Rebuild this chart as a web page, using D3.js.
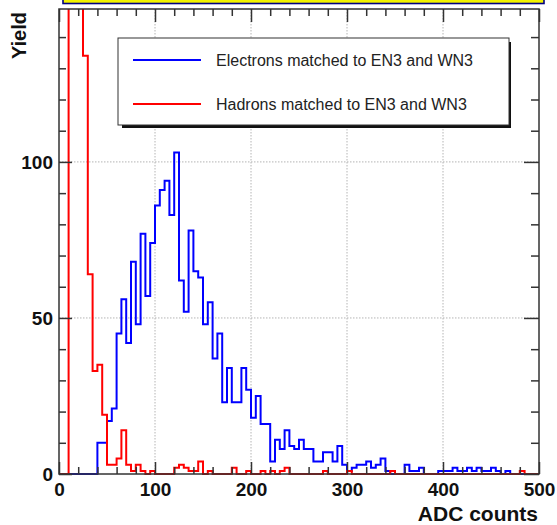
<!DOCTYPE html>
<html>
<head>
<meta charset="utf-8">
<script src="https://cdn.jsdelivr.net/npm/d3@7"></script>
<style>
  html, body { margin: 0; padding: 0; background: #fff; }
  svg { display: block; }
  .tick text { font-family: "Liberation Sans", Arial, Helvetica, sans-serif; font-weight: bold; font-size: 19px; fill: #111; }
</style>
</head>
<body>
<svg id="chart" width="557" height="525"></svg>
<script>
// Histogram binning: 100 bins of 5 ADC counts over [0, 500)
const binWidth = 5;
const binLowEdges = d3.range(0, 500, binWidth);

// Electron yields per bin
const electronCounts = [
  0, 0, 0, 0, 0, 0, 0, 0, 10, 10,
  17, 21, 45, 56, 42, 68, 48, 77, 57, 74,
  86, 91, 94, 83, 103, 62, 52, 78, 65, 63,
  48, 55, 37, 45, 23, 34, 23, 23, 34, 27,
  18, 25, 16, 16, 4, 11, 8, 14, 9, 8,
  11, 8, 8, 4, 4, 7, 7, 4, 9, 3,
  1, 2, 3, 3, 4, 2, 3, 5, 1, 0,
  0, 0, 3, 1, 1, 2, 0, 0, 0, 1,
  1, 1, 2, 1, 1, 2, 1, 2, 1, 1,
  2, 1, 0, 1, 0, 0, 0, 0, 0, 0
];

// Hadron yields per bin (first bins run far above the frame)
const hadronCounts = [
  0, 0, 380, 520, 260, 134, 64, 33, 35, 19,
  3, 3, 5, 14, 3, 1, 3, 1, 0, 1,
  0, 0, 0, 0, 2, 3, 2, 1, 1, 4,
  0, 1, 0, 0, 0, 0, 2, 0, 0, 1,
  0, 0, 1, 0, 1, 0, 1, 2, 0, 0,
  0, 0, 0, 0, 0, 1, 0, 0, 0, 0,
  1, 0, 0, 0, 0, 0, 0, 0, 0, 1,
  0, 0, 0, 0, 0, 0, 0, 0, 0, 0,
  0, 0, 0, 0, 0, 0, 0, 0, 0, 0,
  0, 0, 0, 0, 0, 0, 1, 0, 0, 0
];

const xMajorTicks = [0, 100, 200, 300, 400, 500];
const xMinorTicks = d3.range(20, 500, 20).filter(v => v % 100 !== 0);
const yMajorTicks = [0, 50, 100];
const yMinorTicks = [10, 20, 30, 40, 60, 70, 80, 90, 110, 120, 130, 140];
const xGridValues = [100, 200, 300, 400];
const yGridValues = [50, 100];

const seriesNames = ["Electrons matched to EN3 and WN3", "Hadrons matched to EN3 and WN3"];
const seriesColors = ["#0000ff", "#ff0000"];
const xTitle = "ADC counts";
const yTitle = "Yield";

const svg = d3.select("#chart");
const frame = { left: 59, right: 539, top: 9, bottom: 474 };

const x = d3.scaleLinear().domain([0, 500]).range([frame.left, frame.right]);
const y = d3.scaleLinear().domain([0, 149]).range([frame.bottom, frame.top]);

// Title box peeking in at the top edge
svg.append("rect")
  .attr("x", 63).attr("y", -4).attr("width", 481).attr("height", 7.5)
  .attr("fill", "#f2f200").attr("stroke", "#000080").attr("stroke-width", 1.6);

// Dotted grid
const grid = svg.append("g");
grid.selectAll("line.gx").data(xGridValues).join("line")
  .attr("x1", d => x(d)).attr("x2", d => x(d))
  .attr("y1", frame.top).attr("y2", frame.bottom)
  .attr("stroke", "#b4b4b4").attr("stroke-width", 1).attr("stroke-dasharray", "1.5,1.5");
grid.selectAll("line.gy").data(yGridValues).join("line")
  .attr("y1", d => y(d)).attr("y2", d => y(d))
  .attr("x1", frame.left).attr("x2", frame.right)
  .attr("stroke", "#b4b4b4").attr("stroke-width", 1).attr("stroke-dasharray", "1.5,1.5");

// Plot-area clip so off-scale bins are cut at the frame
svg.append("clipPath").attr("id", "plotClip")
  .append("rect")
  .attr("x", frame.left).attr("y", frame.top)
  .attr("width", frame.right - frame.left).attr("height", frame.bottom - frame.top + 2);

function stepPoints(counts) {
  const pts = [[0, 0]];
  counts.forEach((c, i) => {
    const lo = binLowEdges[i], hi = lo + binWidth;
    pts.push([lo, c], [hi, c]);
  });
  pts.push([500, 0]);
  return pts;
}
const stepLine = d3.line().x(d => x(d[0])).y(d => y(d[1]));

const hists = svg.append("g").attr("clip-path", "url(#plotClip)");
[electronCounts, hadronCounts].forEach((counts, i) => {
  hists.append("path")
    .attr("d", stepLine(stepPoints(counts)))
    .attr("fill", "none")
    .attr("stroke", seriesColors[i])
    .attr("stroke-width", 2)
    .attr("stroke-linejoin", "miter");
});

// Frame
svg.append("rect")
  .attr("x", frame.left).attr("y", frame.top)
  .attr("width", frame.right - frame.left).attr("height", frame.bottom - frame.top)
  .attr("fill", "none").attr("stroke", "#333").attr("stroke-width", 1.5);

function styleAxis(g) {
  g.select(".domain").remove();
  g.selectAll(".tick line").attr("stroke", "#333").attr("stroke-width", 1.5);
}

// Bottom axis (labelled) + minor ticks
svg.append("g").attr("transform", `translate(0,${frame.bottom})`)
  .call(d3.axisBottom(x).tickValues(xMajorTicks).tickSizeInner(-12).tickSizeOuter(0).tickPadding(9).tickFormat(d3.format("d")))
  .call(styleAxis);
svg.append("g").attr("transform", `translate(0,${frame.bottom})`)
  .call(d3.axisBottom(x).tickValues(xMinorTicks).tickSizeInner(-7).tickSizeOuter(0).tickFormat(""))
  .call(styleAxis);

// Top axis ticks
svg.append("g").attr("transform", `translate(0,${frame.top})`)
  .call(d3.axisTop(x).tickValues(xMajorTicks).tickSizeInner(-13).tickSizeOuter(0).tickFormat(""))
  .call(styleAxis);
svg.append("g").attr("transform", `translate(0,${frame.top})`)
  .call(d3.axisTop(x).tickValues(xMinorTicks).tickSizeInner(-7).tickSizeOuter(0).tickFormat(""))
  .call(styleAxis);

// Left axis (labelled) + minor ticks
svg.append("g").attr("transform", `translate(${frame.left},0)`)
  .call(d3.axisLeft(y).tickValues(yMajorTicks).tickSizeInner(-13).tickSizeOuter(0).tickPadding(6).tickFormat(d3.format("d")))
  .call(styleAxis);
svg.append("g").attr("transform", `translate(${frame.left},0)`)
  .call(d3.axisLeft(y).tickValues(yMinorTicks).tickSizeInner(-7).tickSizeOuter(0).tickFormat(""))
  .call(styleAxis);

// Right axis ticks
svg.append("g").attr("transform", `translate(${frame.right},0)`)
  .call(d3.axisRight(y).tickValues(yMajorTicks).tickSizeInner(-15).tickSizeOuter(0).tickFormat(""))
  .call(styleAxis);
svg.append("g").attr("transform", `translate(${frame.right},0)`)
  .call(d3.axisRight(y).tickValues(yMinorTicks).tickSizeInner(-8).tickSizeOuter(0).tickFormat(""))
  .call(styleAxis);

// Axis titles
svg.append("text")
  .attr("x", 538).attr("y", 521)
  .attr("text-anchor", "end")
  .attr("font-family", "'Liberation Sans', Arial, Helvetica, sans-serif")
  .attr("font-weight", "bold").attr("font-size", 21).attr("fill", "#111")
  .text(xTitle);
svg.append("text")
  .attr("transform", "translate(26,12) rotate(-90)")
  .attr("text-anchor", "end")
  .attr("font-family", "'Liberation Sans', Arial, Helvetica, sans-serif")
  .attr("font-weight", "bold").attr("font-size", 20).attr("fill", "#111")
  .text(yTitle);

// Legend with drop shadow
const legend = svg.append("g");
legend.append("rect")
  .attr("x", 122).attr("y", 42).attr("width", 389).attr("height", 86)
  .attr("fill", "#111");
legend.append("rect")
  .attr("x", 118).attr("y", 38).attr("width", 391).attr("height", 87)
  .attr("fill", "#fff").attr("stroke", "#333").attr("stroke-width", 1);
const legendRows = [60, 104];
seriesNames.forEach((name, i) => {
  legend.append("line")
    .attr("x1", 133).attr("x2", 201)
    .attr("y1", legendRows[i]).attr("y2", legendRows[i])
    .attr("stroke", seriesColors[i]).attr("stroke-width", 2);
  legend.append("text")
    .attr("x", 216).attr("y", legendRows[i] + 5.8)
    .attr("font-family", "'Liberation Sans', Arial, Helvetica, sans-serif")
    .attr("font-size", 16).attr("fill", "#222")
    .text(name);
});
</script>
</body>
</html>
